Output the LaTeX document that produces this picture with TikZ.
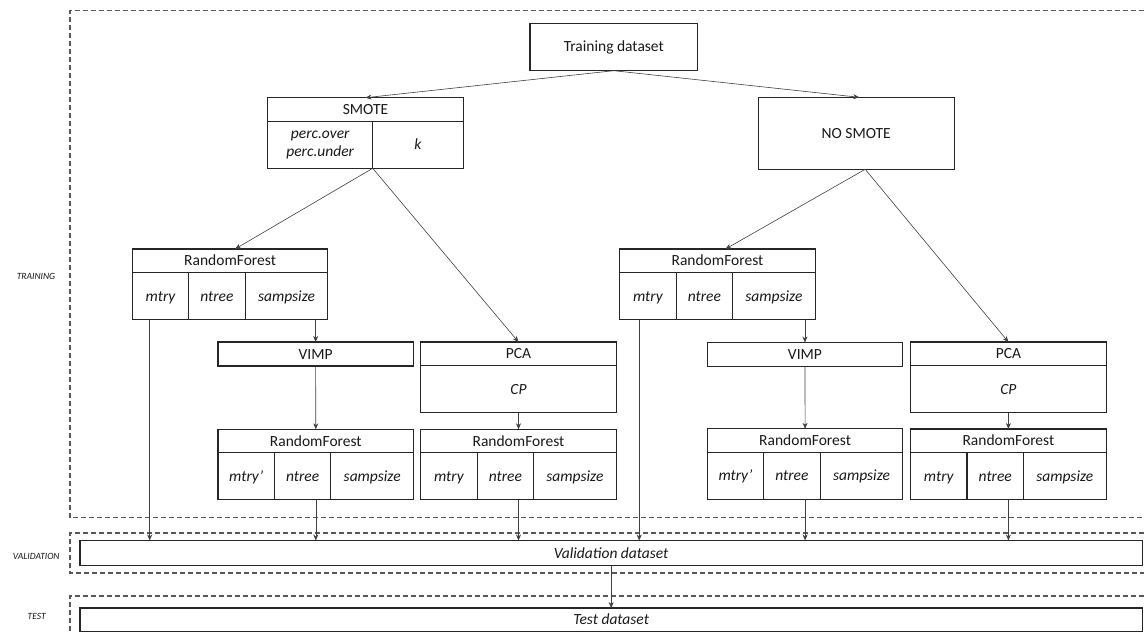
\documentclass[tikz,border=0pt]{standalone}
\usepackage{fontspec}
\setmainfont{Carlito}
\usetikzlibrary{arrows.meta,calc}
\newcommand\rfgroup[4]{%
  \node[box, tt, minimum width=195.6pt, minimum height=23.5pt] (#1) at (#2,#3) {RandomForest};
  \node[box, tt, par, minimum width=56.4pt, minimum height=47pt] (#1a) at (#1.south west) {#4};
  \node[box, tt, par, minimum width=56.5pt, minimum height=47pt] (#1b) at (#1a.north east) {ntree};
  \node[box, tt, par, minimum width=82.7pt, minimum height=47pt] (#1c) at (#1b.north east) {sampsize};
}
\newcommand\pcagroup[3]{%
  \node[box, tt, minimum width=195.6pt, minimum height=23.3pt] (#1) at (#2,#3) {PCA};
  \node[box, tt, par, minimum width=195.6pt, minimum height=47.4pt] (#1b) at (#1.south west) {CP};
}
\begin{document}
\begin{tikzpicture}[x=1pt,y=-1pt,
  every node/.style={font=\fontsize{15.5}{18}\selectfont, text=black!90},
  box/.style={draw=black!85, line width=1.15pt, inner sep=0pt, outer sep=0pt, anchor=north west, align=center},
  tt/.style={text height=12pt, text depth=2pt},
  par/.style={font=\fontsize{15.5}{18.3}\selectfont\itshape},
  arr/.style={draw=black!75, line width=0.6pt, -{Stealth[length=6pt,width=5pt]}},
  zone/.style={draw=black!65, line width=1.1pt, dash pattern=on 5pt off 3pt},
  lab/.style={font=\fontsize{9.5}{11}\selectfont\itshape}]
\useasboundingbox (0,0) rectangle (1144,634);
% zones
\draw[zone] (1144,10.7) -- (70,10.7) -- (70,517.3) -- (1144,517.3);
\draw[zone] (1144,533) -- (70,533) -- (70,573) -- (1144,573);
\draw[zone] (1144,596) -- (70,596) -- (70,634);
\node[lab] (ltrain) at (36,276) {TRAINING};
\node[lab] (lval) at (36.3,556.7) {VALIDATION};
\node[lab] (ltest) at (36.7,616.7) {TEST};
% top
\node[box, tt, minimum width=167.6pt, minimum height=47.4pt] (train) at (530,23.3) {Training dataset};
\node[box, tt, minimum width=195.6pt, minimum height=23.6pt] (smote) at (267.7,97.7) {SMOTE};
\node[box, par, minimum width=105pt, minimum height=47pt] (smoteA) at (smote.south west) {perc.over\\perc.under};
\node[box, tt, par, minimum width=90.6pt, minimum height=47pt] (smoteB) at (smoteA.north east) {k};
\node[box, tt, minimum width=196pt, minimum height=72pt] (nosmote) at (758.2,97.3) {NO SMOTE};
% left branch
\rfgroup{rfLA}{132.3}{249}{mtry}
\node[box, tt, minimum width=195.3pt, minimum height=24pt] (vimpL) at (218,342) {VIMP};
\rfgroup{rfLB}{218}{429.3}{mtry’}
\pcagroup{pcaL}{420.7}{342}
\rfgroup{rfLC}{420.7}{429.3}{mtry}
% right branch
\rfgroup{rfRA}{619.7}{249}{mtry}
\node[box, tt, minimum width=195.3pt, minimum height=24pt] (vimpR) at (707.3,342.5) {VIMP};
\rfgroup{rfRB}{707.3}{428.8}{mtry’}
\pcagroup{pcaR}{910.6}{342}
\rfgroup{rfRC}{910.6}{429}{mtry}
% bottom
\node[box, tt, par, minimum width=1062.3pt, minimum height=25pt] (val) at (80,540.5) {Validation dataset};
\node[box, tt, par, minimum width=1062.3pt, minimum height=23.3pt] (test) at (80,608) {Test dataset};
% connectors
\draw[arr] (train.south) -- (smote.north);
\draw[arr] (train.south) -- ([xshift=3pt]nosmote.north);
\coordinate (s0) at (smoteA.south east);
\draw[arr] (s0) -- ([xshift=5pt]rfLA.north);
\draw[arr] (s0) -- (pcaL.north);
\coordinate (n0) at ([xshift=9pt]nosmote.south);
\draw[arr] (n0) -- ([xshift=8pt]rfRA.north);
\draw[arr] (n0) -- (pcaR.north);
\draw[arr] (rfLAc.south -| vimpL.north) -- (vimpL.north);
\draw[arr] (vimpL.south) -- (rfLB.north);
\draw[arr] (rfRAc.south -| vimpR.north) -- (vimpR.north);
\draw[arr] (vimpR.south) -- (rfRB.north);
\draw[arr] (pcaLb.south) -- (pcaLb.south |- rfLC.north);
\draw[arr] (pcaRb.south) -- (pcaRb.south |- rfRC.north);
\coordinate (v1) at ([xshift=17.4pt]rfLAa.south west);
\coordinate (v2) at (rfLBb.south -| rfLB.south);
\coordinate (v3) at (rfLCb.south -| rfLC.south);
\coordinate (v4) at ([xshift=19.5pt]rfRAa.south west);
\coordinate (v5) at (rfRBb.south -| rfRB.south);
\coordinate (v6) at (rfRCb.south -| rfRC.south);
\foreach \v in {v1,v2,v3,v4,v5,v6}
  \draw[arr] (\v) -- (\v |- val.north);
\draw[arr] (val.south) -- (val.south |- test.north);
\end{tikzpicture}
\end{document}
